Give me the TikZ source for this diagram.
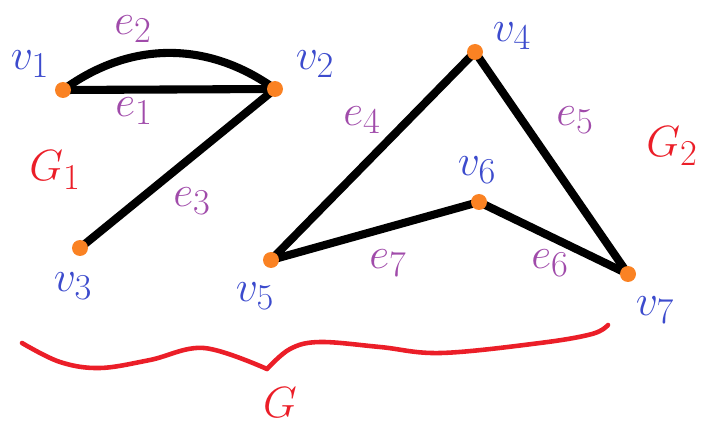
\documentclass[tikz,border=0pt]{standalone}
\usetikzlibrary{backgrounds}
\definecolor{vtxorange}{RGB}{250,130,35}
\definecolor{vblue}{RGB}{60,75,205}
\definecolor{epurple}{RGB}{160,75,170}
\definecolor{gred}{RGB}{235,30,40}
\begin{document}
\begin{tikzpicture}[x=0.02cm,y=-0.02cm,
  every node/.style={font=\fontsize{28}{32}\selectfont},
  vertex/.style={circle,fill=vtxorange,inner sep=0pt,minimum size=0.32cm},
  vlabel/.style={text=vblue},
  elabel/.style={text=epurple},
  glabel/.style={text=gred},
  edge/.style={line width=4.6pt,black},
  brace/.style={line width=2.6pt,gred,line cap=round,line join=round}]
  \useasboundingbox (0,0) rectangle (724,432);
  % vertices
  \node[vertex] (v1) at (63,90) {};
  \node[vertex] (v2) at (275,89) {};
  \node[vertex] (v3) at (80,248) {};
  \node[vertex] (v4) at (475,52) {};
  \node[vertex] (v5) at (271,260) {};
  \node[vertex] (v6) at (479,202) {};
  \node[vertex] (v7) at (628,274) {};
  % vertex labels
  \node[vlabel] (lv1) at (30,64) {$v_1$};
  \node[vlabel] (lv2) at (315,64) {$v_2$};
  \node[vlabel] (lv3) at (73,286) {$v_3$};
  \node[vlabel] (lv4) at (512,36) {$v_4$};
  \node[vlabel] (lv5) at (255,296) {$v_5$};
  \node[vlabel] (lv6) at (477,170) {$v_6$};
  \node[vlabel] (lv7) at (655,310) {$v_7$};
  % edges
  \begin{scope}[on background layer]
    \draw[edge] (v1.center) -- (v2.center);
    \draw[edge] (v1.center) to[bend left=36] (v2.center);
    \draw[edge] (v2.center) -- (v3.center);
    \draw[edge] (v4.center) -- (v5.center);
    \draw[edge] (v4.center) -- (v7.center);
    \draw[edge] (v5.center) -- (v6.center);
    \draw[edge] (v6.center) -- (v7.center);
  \end{scope}
  % edge labels
  \node[elabel] (le1) at (134,111) {$e_1$};
  \node[elabel] (le2) at (133,29) {$e_2$};
  \node[elabel] (le3) at (192,201) {$e_3$};
  \node[elabel] (le4) at (362,120) {$e_4$};
  \node[elabel] (le5) at (575,120) {$e_5$};
  \node[elabel] (le6) at (550,263) {$e_6$};
  \node[elabel] (le7) at (388,263) {$e_7$};
  % graph labels and brace
  \node[glabel] (g1) at (55,170) {$G_1$};
  \node[glabel] (g2) at (672,146) {$G_2$};
  \draw[brace] plot[smooth,tension=0.6] coordinates {(22,343) (60,362) (100,368) (150,360) (204,348) (267,369)};
  \draw[brace] plot[smooth,tension=0.6] coordinates {(267,369) (290,349) (320,342) (380,347) (441,353) (540,343) (592,334) (608,325)};
  \node[glabel] (g) at (280,403) {$G$};
\end{tikzpicture}
\end{document}
